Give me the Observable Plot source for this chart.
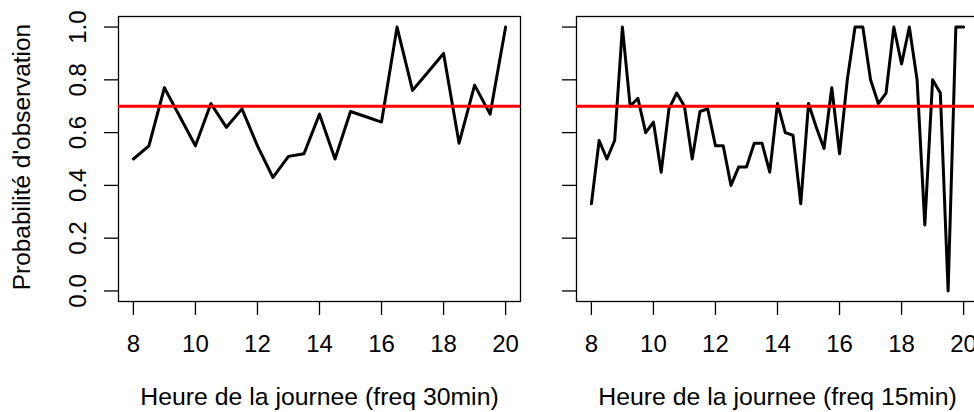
<!DOCTYPE html>
<html>
<head>
<meta charset="utf-8">
<script src="https://cdn.jsdelivr.net/npm/d3@7"></script>
<script src="https://cdn.jsdelivr.net/npm/@observablehq/plot@0.6"></script>
<style>
  html, body { margin: 0; padding: 0; background: #fff; overflow: hidden; }
  #wrap { width: 974px; height: 412px; overflow: hidden; display: flex; flex-direction: row; }
  #wrap svg { flex: none; display: block; }
</style>
</head>
<body>
<div id="wrap"></div>
<script>
// ---- data ----
const hours30 = [8, 8.5, 9, 9.5, 10, 10.5, 11, 11.5, 12, 12.5, 13, 13.5, 14, 14.5, 15, 15.5, 16, 16.5, 17, 17.5, 18, 18.5, 19, 19.5, 20];
const prob30 = [0.50, 0.55, 0.77, 0.66, 0.55, 0.71, 0.62, 0.69, 0.55, 0.43, 0.51, 0.52, 0.67, 0.50, 0.68, 0.66, 0.64, 1.00, 0.76, 0.83, 0.90, 0.56, 0.78, 0.67, 1.00];

const hours15 = [8, 8.25, 8.5, 8.75, 9, 9.25, 9.5, 9.75, 10, 10.25, 10.5, 10.75, 11, 11.25, 11.5, 11.75, 12, 12.25, 12.5, 12.75, 13, 13.25, 13.5, 13.75, 14, 14.25, 14.5, 14.75, 15, 15.25, 15.5, 15.75, 16, 16.25, 16.5, 16.75, 17, 17.25, 17.5, 17.75, 18, 18.25, 18.5, 18.75, 19, 19.25, 19.5, 19.75, 20];
const prob15 = [0.33, 0.57, 0.50, 0.57, 1.00, 0.70, 0.73, 0.60, 0.64, 0.45, 0.69, 0.75, 0.70, 0.50, 0.68, 0.69, 0.55, 0.55, 0.40, 0.47, 0.47, 0.56, 0.56, 0.45, 0.71, 0.60, 0.59, 0.33, 0.71, 0.62, 0.54, 0.77, 0.52, 0.80, 1.00, 1.00, 0.80, 0.71, 0.75, 1.00, 0.86, 1.00, 0.80, 0.25, 0.80, 0.75, 0.00, 1.00, 1.00];

const threshold = [0.7];
const xTicks = [8, 10, 12, 14, 16, 18, 20];
const yTicks = [0, 0.2, 0.4, 0.6, 0.8, 1.0];
const yTitle = "Probabilité d'observation";
const xTitle30 = "Heure de la journee (freq 30min)";
const xTitle15 = "Heure de la journee (freq 15min)";

// ---- build ----
const font = "'Liberation Sans', Arial, Helvetica, sans-serif";
const data30 = hours30.map((h, i) => ({h, p: prob30[i]}));
const data15 = hours15.map((h, i) => ({h, p: prob15[i]}));

function panel(data, xTitle, opts) {
  const marks = [
    Plot.frame({stroke: "black", strokeWidth: 1.3}),
    Plot.axisX({ticks: xTicks, tickSize: 14, tickFormat: () => "", label: null, strokeWidth: 1.3}),
    Plot.axisY({ticks: yTicks, tickSize: 14, tickFormat: () => "", label: null, strokeWidth: 1.3}),
    Plot.line(data, {x: "h", y: "p", stroke: "black", strokeWidth: 3}),
    Plot.ruleY(threshold, {stroke: "#ff0000", strokeWidth: 3}),
    Plot.text(xTicks, {x: d => d, text: d => String(d), frameAnchor: "bottom", dy: 42.5, lineAnchor: "middle"}),
    Plot.text([xTitle], {text: d => d, frameAnchor: "bottom", dy: 96, lineAnchor: "middle", fontSize: 24.8})
  ];
  if (opts.yLabels) {
    marks.push(Plot.text(yTicks, {y: d => d, text: d => d.toFixed(1), frameAnchor: "left", dx: -40, rotate: -90, textAnchor: "middle", lineAnchor: "middle"}));
    marks.push(Plot.text([yTitle], {text: d => d, frameAnchor: "left", dx: -96, dy: -2, rotate: -90, textAnchor: "middle", lineAnchor: "middle", fontSize: 24.4}));
  }
  return Plot.plot({
    width: opts.width,
    height: 412,
    marginLeft: opts.marginLeft,
    marginRight: opts.marginRight,
    marginTop: 16,
    marginBottom: 111,
    style: {fontFamily: font, fontSize: "24px", background: "#fff", color: "black", overflow: "visible"},
    x: {domain: [7.52, 20.48]},
    y: {domain: [-0.04, 1.04]},
    marks
  });
}

const wrap = document.getElementById("wrap");
wrap.appendChild(panel(data30, xTitle30, {width: 548, marginLeft: 118, marginRight: 28, yLabels: true}));
wrap.appendChild(panel(data15, xTitle15, {width: 440, marginLeft: 28, marginRight: 10, yLabels: false}));
</script>
</body>
</html>
